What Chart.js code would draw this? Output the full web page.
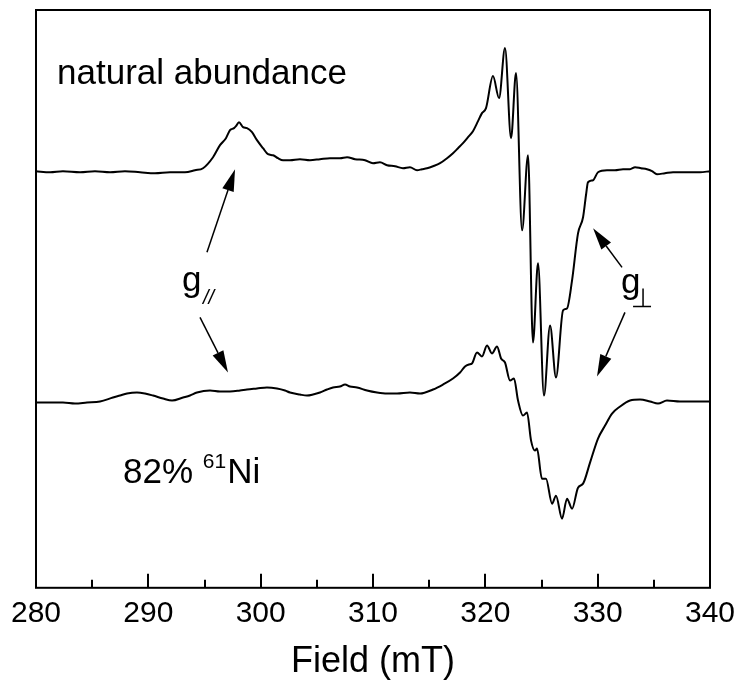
<!DOCTYPE html>
<html>
<head>
<meta charset="utf-8">
<script src="https://cdn.jsdelivr.net/npm/chart.js@4.4.1/dist/chart.umd.min.js"></script>
<style>
  html, body { margin: 0; padding: 0; background: #fff; }
</style>
</head>
<body>
<canvas id="epr" width="739" height="692"></canvas>
<script>
// field axis (mT)
const xTicks = [280, 290, 300, 310, 320, 330, 340];
const xMinorTicks = [285, 295, 305, 315, 325, 335];

// natural abundance spectrum, field (mT) and signal (a.u.)
const fieldTop = [280.0, 281.25, 282.4, 283.92, 285.25, 286.59, 287.92, 289.26, 290.59, 291.93, 293.26, 294.15, 294.87, 295.76, 296.38, 296.91, 297.27, 297.63, 297.8, 298.07, 298.43, 298.78, 299.23, 299.67, 300.21, 300.65, 301.1, 301.54, 301.99, 302.61, 303.5, 304.39, 305.28, 306.17, 307.06, 307.69, 308.4, 309.29, 310.0, 310.62, 311.25, 311.96, 312.67, 313.29, 313.92, 314.36, 314.81, 315.34, 315.97, 316.59, 317.12, 317.57, 318.01, 318.46, 318.9, 319.35, 319.7, 320.06, 320.68, 321.22, 321.75, 322.29, 322.73, 323.27, 323.8, 324.24, 324.69, 325.22, 325.76, 326.29, 326.92, 327.27, 327.72, 328.25, 328.7, 328.96, 329.14, 329.59, 330.03, 330.83, 331.54, 332.26, 332.88, 333.33, 333.86, 334.39, 334.84, 335.28, 335.99, 336.71, 337.78, 339.11, 340.0];
const sigTop = [1, 0, 1, 0, 1, 0, 1, 0, -1, 0, 0, 2, 4, 15, 27, 34, 42, 44, 46, 50, 45, 44, 40, 32, 24, 18, 17, 14, 12, 12, 13, 12, 13, 14, 14, 15, 13, 12, 9, 10, 7, 6, 4, 5, 2, 3, 4, 6, 9, 14, 19, 24, 29, 35, 41, 51, 59, 64, 96, 74, 124, 34, 99, -58, 17, -170, -91, -223, -153, -205, -138, -136, -108, -61, -45, -23, -10, -8, 0, 2, 2, 3, 3, 5, 4, 3, 1, -2, -1, 0, 0, 0, 1];

// 82% 61Ni spectrum
const fieldBot = [280.09, 281.25, 282.4, 283.47, 284.54, 285.7, 286.85, 287.48, 288.1, 288.99, 289.7, 290.42, 291.31, 292.11, 293.09, 293.71, 294.33, 295.49, 296.38, 297.27, 298.16, 298.78, 299.67, 300.56, 301.45, 302.17, 302.61, 303.5, 304.12, 304.66, 305.28, 305.91, 306.44, 307.06, 307.51, 307.95, 308.58, 309.47, 310.36, 311.25, 312.14, 313.29, 314.19, 315.34, 316.23, 317.12, 317.75, 318.19, 318.55, 318.81, 319.26, 319.7, 320.15, 320.59, 321.04, 321.4, 321.75, 322.2, 322.55, 322.91, 323.35, 323.71, 324.07, 324.42, 324.6, 325.04, 325.4, 325.94, 326.29, 326.83, 327.27, 327.72, 328.25, 328.7, 329.32, 330.03, 330.66, 331.28, 331.99, 332.88, 333.77, 334.66, 335.37, 336.17, 337.33, 338.67, 340.0];
const sigBot = [1, 1, 1, 0, 1, 2, 6, 8, 10, 11, 10, 8, 5, 3, 6, 8, 11, 13, 12, 12, 13, 14, 15, 16, 15, 13, 11, 9, 8, 9, 11, 14, 16, 17, 19, 17, 16, 13, 11, 10, 10, 11, 10, 14, 19, 25, 31, 37, 39, 40, 51, 47, 58, 50, 57, 45, 41, 23, 25, 3, -12, -9, -37, -47, -45, -75, -75, -100, -92, -115, -95, -105, -84, -80, -59, -35, -22, -10, -3, 3, 4, 2, 0, 3, 2, 2, 2];

// vertical offset between the two traces
const offsetTop = 0;
const offsetBot = -231;

const fontFamily = '"Liberation Sans", Arial, sans-serif';

function toPoints(xs, ys, off) {
    return xs.map((x, i) => ({ x: x, y: ys[i] + off }));
}

function arrow(ctx, x0, y0, x1, y1) {
    const ang = Math.atan2(y1 - y0, x1 - x0);
    const len = 22, half = 6;
    const bx = x1 - len * Math.cos(ang), by = y1 - len * Math.sin(ang);
    ctx.beginPath();
    ctx.moveTo(x0, y0);
    ctx.lineTo(bx, by);
    ctx.stroke();
    ctx.beginPath();
    ctx.moveTo(x1, y1);
    ctx.lineTo(bx + half * Math.sin(ang), by - half * Math.cos(ang));
    ctx.lineTo(bx - half * Math.sin(ang), by + half * Math.cos(ang));
    ctx.closePath();
    ctx.fill();
}

// box round the plot and inward ticks on the field axis
const framePlugin = {
    id: 'frame',
    afterDraw(chart) {
        const { ctx, chartArea: a, scales: { x } } = chart;
        ctx.save();
        ctx.strokeStyle = '#000';
        ctx.lineWidth = 2;
        ctx.strokeRect(a.left, a.top, a.right - a.left, a.bottom - a.top);
        ctx.beginPath();
        xTicks.forEach(v => {
            const px = Math.round(x.getPixelForValue(v));
            ctx.moveTo(px, a.bottom);
            ctx.lineTo(px, a.bottom - 14);
        });
        xMinorTicks.forEach(v => {
            const px = Math.round(x.getPixelForValue(v));
            ctx.moveTo(px, a.bottom);
            ctx.lineTo(px, a.bottom - 8);
        });
        ctx.stroke();
        ctx.restore();
    }
};

// labels and arrows
const notePlugin = {
    id: 'notes',
    afterDatasetsDraw(chart) {
        const { ctx, scales: { x, y } } = chart;
        const X = v => x.getPixelForValue(v);
        const Y = v => y.getPixelForValue(v);
        ctx.save();
        ctx.fillStyle = '#000';
        ctx.strokeStyle = '#000';
        ctx.textBaseline = 'alphabetic';
        ctx.textAlign = 'left';

        ctx.font = '35px ' + fontFamily;
        ctx.fillText('natural abundance', X(281.87), Y(88));

        // g parallel
        ctx.fillText('g', X(293.0), Y(-119));
        ctx.font = 'italic 20px ' + fontFamily;
        ctx.fillText('//', X(294.87), Y(-132));

        // g perpendicular
        ctx.font = '35px ' + fontFamily;
        ctx.fillText('g', X(332.08), Y(-121));
        ctx.lineWidth = 1.5;
        ctx.beginPath();
        ctx.moveTo(X(334.04), Y(-116));
        ctx.lineTo(X(334.04), Y(-134));
        ctx.moveTo(X(333.15), Y(-134));
        ctx.lineTo(X(334.75), Y(-134));
        ctx.stroke();

        // 82% 61Ni
        let tx = X(287.75);
        ctx.font = '35px ' + fontFamily;
        ctx.fillText('82% ', tx, Y(-310));
        tx += ctx.measureText('82% ').width;
        ctx.font = '21px ' + fontFamily;
        ctx.fillText('61', tx, Y(-295));
        tx += ctx.measureText('61').width + 1;
        ctx.font = '35px ' + fontFamily;
        ctx.fillText('Ni', tx, Y(-310));

        // arrows
        ctx.lineWidth = 1.5;
        arrow(ctx, X(295.22), Y(-80), X(297.72), Y(3));
        arrow(ctx, X(294.6), Y(-145), X(297.09), Y(-200));
        arrow(ctx, X(332.17), Y(-95), X(329.59), Y(-56));
        arrow(ctx, X(332.43), Y(-140), X(329.94), Y(-204));
        ctx.restore();
    }
};

const lineStyle = {
    borderColor: '#000',
    borderWidth: 2,
    pointRadius: 0,
    fill: false,
    cubicInterpolationMode: 'monotone'
};

const eprChart = new Chart(document.getElementById('epr'), {
    type: 'line',
    data: {
        datasets: [
            Object.assign({ label: 'natural abundance', data: toPoints(fieldTop, sigTop, offsetTop) }, lineStyle),
            Object.assign({ label: '82% 61Ni', data: toPoints(fieldBot, sigBot, offsetBot) }, lineStyle)
        ]
    },
    options: {
        responsive: false,
        animation: false,
        devicePixelRatio: 1,
        layout: { padding: { left: 36, right: 29, top: 10, bottom: 8 } },
        plugins: {
            legend: { display: false },
            tooltip: { enabled: false }
        },
        scales: {
            x: {
                type: 'linear',
                min: 280,
                max: 340,
                grid: { display: false },
                border: { display: false },
                afterBuildTicks: scale => { scale.ticks = xTicks.map(v => ({ value: v })); },
                ticks: {
                    color: '#000',
                    font: { family: fontFamily, size: 30 },
                    padding: 0,
                    maxRotation: 0,
                    autoSkip: false
                },
                title: {
                    display: true,
                    text: 'Field (mT)',
                    color: '#000',
                    font: { family: fontFamily, size: 36 },
                    padding: { top: 9, bottom: 0 }
                }
            },
            y: {
                display: false,
                min: -415,
                max: 162
            }
        }
    },
    plugins: [framePlugin, notePlugin]
});
</script>
</body>
</html>
